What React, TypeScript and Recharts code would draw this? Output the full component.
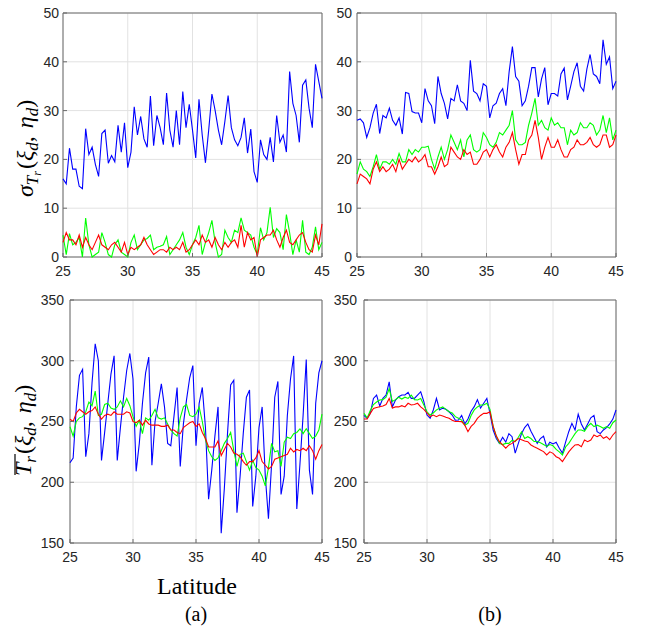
import { CartesianGrid, Line, LineChart, ReferenceArea, XAxis, YAxis } from "recharts";

// latitude grid shared by all four panels (0.25 deg step)
const latitude = [
  25, 25.25, 25.5, 25.75, 26, 26.25, 26.5, 26.75, 27, 27.25, 27.5, 27.75, 28, 28.25, 28.5, 28.75,
  29, 29.25, 29.5, 29.75, 30, 30.25, 30.5, 30.75, 31, 31.25, 31.5, 31.75, 32, 32.25, 32.5, 32.75,
  33, 33.25, 33.5, 33.75, 34, 34.25, 34.5, 34.75, 35, 35.25, 35.5, 35.75, 36, 36.25, 36.5, 36.75,
  37, 37.25, 37.5, 37.75, 38, 38.25, 38.5, 38.75, 39, 39.25, 39.5, 39.75, 40, 40.25, 40.5, 40.75,
  41, 41.25, 41.5, 41.75, 42, 42.25, 42.5, 42.75, 43, 43.25, 43.5, 43.75, 44, 44.25, 44.5, 44.75, 45,
];
const latTicks = [25, 30, 35, 40, 45];
const sigmaTicks = [0, 10, 20, 30, 40, 50];
const meanTicks = [150, 200, 250, 300, 350];

// (a) sigma
const sigmaBlueA = [
  16, 15, 22.3, 18, 18, 14.5, 14, 26.3, 21, 22.5, 19, 16.5, 25.3, 26, 19.2, 20.8,
  19.5, 27, 21.5, 27.5, 18.3, 21.5, 30.8, 25, 28.8, 24.2, 22.5, 33, 22.8, 29, 26.5, 23,
  33.6, 26, 22.5, 30, 23, 33.9, 26.5, 31.3, 26, 20.3, 32.3, 25, 19.3, 26, 33.4, 30,
  26, 23, 27.8, 33.1, 26.5, 24, 22.8, 24.5, 28.5, 21.3, 26.2, 17.5, 15.3, 24, 21, 20,
  24.5, 19.5, 29, 23.5, 25, 21.5, 38, 31.5, 29, 23.5, 35.2, 36.3, 30.5, 26.5, 39.5, 36, 32.5,
];
const sigmaGreenA = [
  4.5, 0.5, 4.8, 2.5, 3, 4, 0, 8, 2.5, 0, 0.5, 1, 5, 3, 0.5, 0,
  2.5, 3.5, 1, 0.5, 0, 3, 4.5, 1.5, 2.5, 3.5, 3.8, 4.5, 1.5, 2, 2.2, 2.5,
  4.2, 0.5, 1.5, 2.5, 3.5, 5, 2, 0.5, 2.5, 4, 6.5, 0.5, 3, 5, 7.5, 3,
  0, 0.5, 5.5, 4, 3, 5.5, 5, 8, 5.5, 5, 4.5, 2, 0.5, 6, 3.5, 5,
  10.2, 4, 5.8, 5, 1.5, 8.7, 5, 0.5, 3.5, 1, 7.5, 1, 0.5, 2, 6.2, 1.5, 3,
];
const sigmaRedA = [
  3, 5, 3.5, 3.5, 2.5, 4.5, 2, 4, 2.5, 1.5, 3, 4.5, 2.5, 2, 1.5, 2.5,
  3, 2, 1, 3, 0.5, 2, 1.5, 2, 2.5, 4, 2.5, 1.5, 0.5, 1, 1.5, 1.5,
  1, 2, 1.5, 2, 1.5, 3, 1, 1.5, 2.5, 3.5, 2.5, 4.5, 3, 3.5, 2, 4,
  2.5, 1.5, 3, 2, 3, 3.5, 2, 6.5, 2, 5, 3.5, 4, 0, 3.5, 4, 4.5,
  4.5, 5.5, 3.5, 2, 4, 5.5, 3, 2.5, 3.5, 4.5, 5, 3, 1.5, 1, 4.5, 2.5, 6.8,
];

// (b) sigma
const sigmaBlueB = [
  28, 28.3, 27.5, 24.5, 26.5, 29.5, 31.3, 25.3, 29, 28.5, 30.5, 28, 27, 28.5, 25.2, 33.7,
  33.5, 29.8, 29.5, 29.5, 27.5, 34.5, 32, 31, 27.3, 37, 33.5, 31.5, 28.3, 32.5, 32, 35.3,
  32, 31.5, 30, 40.3, 34, 33.5, 32, 35.5, 35, 28.5, 31, 31.5, 33.5, 34.5, 31, 38,
  43.1, 37, 36, 31, 32, 35, 38.8, 38.8, 32.8, 36.5, 38.8, 31.2, 33.5, 33.5, 33, 37.5,
  38.7, 32.2, 35, 38, 39.8, 35, 34, 38.5, 41.5, 37.5, 37, 35.5, 44.5, 39.5, 41, 34.5, 36,
];
const sigmaGreenB = [
  17, 19.5, 18, 17.5, 16.5, 18.5, 21, 18, 19.5, 19.5, 19, 20, 19, 21.2, 19.5, 19.5,
  22, 21, 22, 21.5, 22.5, 22.5, 22.7, 20, 18, 20.5, 22.5, 20, 22, 25, 23.5, 22,
  24, 20.5, 24, 25, 22, 21.5, 22, 25.5, 24.5, 23, 22.5, 23.5, 25.5, 25, 26, 27,
  30, 24, 23, 23, 23.5, 27, 29.5, 32.5, 27, 28, 26.5, 26, 28.5, 27, 27.5, 26.5,
  26.5, 23, 26, 25, 25.5, 27.5, 26.5, 26.5, 27.5, 27, 25, 26, 29, 25.5, 28.5, 24, 26,
];
const sigmaRedB = [
  15, 17, 16.5, 16, 15, 18, 19.5, 17.5, 18.5, 17.5, 18, 19, 17.5, 20, 18, 19,
  20, 19.5, 20.5, 19.5, 20, 21, 18.5, 18.5, 17, 18.5, 20.5, 18.5, 19, 22.5, 21.5, 20.5,
  20, 22, 21, 21.5, 19, 19, 20, 21.5, 22, 20.5, 22, 23, 21.5, 20.5, 22.5, 23.5,
  25.5, 22, 19, 21, 21, 24, 25, 28, 24.5, 20, 22.5, 24.5, 22.5, 22.5, 24, 22,
  20.5, 20.5, 22, 22.5, 24, 23, 23, 23.5, 24.5, 23, 22.5, 23, 25, 25, 22.5, 23, 25,
];

// (a) mean
const meanBlueA = [
  216, 220, 262, 288, 293, 221, 240, 282, 314, 300, 218, 241, 265, 289, 304, 218,
  245, 270, 292, 306, 285, 209, 232, 265, 290, 303, 214, 250, 265, 281, 262, 232,
  230, 254, 278, 213, 248, 268, 286, 296, 230, 265, 278, 245, 186, 210, 238, 262,
  158, 195, 240, 280, 284, 175, 205, 240, 270, 276, 180, 205, 245, 262, 205, 170,
  215, 270, 283, 190, 205, 255, 285, 304, 178, 215, 255, 301, 210, 190, 265, 290, 300,
];
const meanGreenA = [
  245.7, 238, 250, 253, 254, 258, 266, 263, 275, 255, 256, 264, 265, 261, 260, 262,
  267, 262, 269, 263, 254, 246, 251, 240, 253, 251, 255, 260, 253, 252, 253, 248,
  243, 240, 238, 253, 262, 264, 255, 254, 256, 262, 250, 235, 226, 221, 218, 220,
  226, 232, 236, 241, 226, 213, 223, 224, 217, 210, 218, 212, 210, 205, 197, 212,
  232, 225, 226, 213, 233, 237, 236, 240, 241, 244, 240, 244, 240, 236, 238, 243, 256,
];
const meanRedA = [
  252, 250, 257, 260, 258, 256, 258, 259, 262, 256, 252, 255, 256, 255, 258, 256,
  256, 256, 258, 257, 250, 249, 251, 247, 251, 248, 247, 247, 247, 246, 246, 247,
  243, 243, 241, 240, 245, 247, 249, 250, 246, 248, 241, 236, 229, 229, 229, 234,
  222, 227, 232, 229, 224, 223, 221, 217, 214, 217, 217, 220, 226, 217, 214, 211,
  213, 219, 220, 221, 222, 223, 228, 225, 227, 226, 228, 226, 230, 226, 219, 226, 231,
];

// (b) mean
const meanBlueB = [
  255, 252.6, 256.7, 269, 271.8, 262.7, 269, 271.8, 282.7, 262, 267.7, 270.4, 271.8, 271.8, 274, 269,
  269, 271.8, 274.5, 266.3, 255.3, 252.6, 259.5, 269, 259.5, 261, 260, 258, 255.3, 251, 251.2, 255,
  248, 252, 258.5, 262.2, 268, 261, 265, 269, 256.7, 243, 236, 232, 237, 233, 240, 237.5,
  224, 232, 240, 245, 248, 242, 237, 232, 236, 238, 229, 233, 231.5, 233, 228, 224,
  233, 241.6, 248.5, 243, 256, 248, 243, 248, 253, 255, 241.6, 240, 243, 245, 248, 252, 259.5,
];
const meanGreenB = [
  256.7, 253, 259, 264, 266, 267.7, 268, 270, 277, 266.5, 268, 270, 268.5, 270, 269, 271.8,
  268, 267.7, 269, 263.6, 258, 255.3, 257, 259.5, 261, 262, 260, 258, 257, 254, 252.6, 251.2,
  247, 248.5, 255, 259.5, 262, 263.6, 263.6, 265, 260, 246, 238, 232, 231, 232, 232, 234.5,
  233.5, 237, 241.5, 236, 237.5, 236, 233.5, 233.5, 232.5, 231, 229.5, 231, 230, 227, 225, 222.5,
  229, 232, 236, 240, 243, 243, 242, 246, 248.5, 245.8, 247, 245.8, 244.4, 245.8, 244.4, 249, 251.2,
];
const meanRedB = [
  252, 252, 256.7, 260.8, 261.5, 262.2, 262.7, 264, 269, 261, 262, 262, 263, 262, 265, 263.6,
  264, 265, 262, 260, 257, 254, 255.3, 254, 255.3, 254.5, 253.5, 252.6, 251, 250, 250, 249.9,
  247, 241.6, 246, 248.5, 252.6, 255, 256.7, 256.7, 258, 246, 238, 233.4, 230.7, 228, 230.7, 232,
  234, 236, 235, 234, 233.4, 230.7, 229.3, 228, 226.6, 225.2, 222.5, 225, 223.8, 221, 219.7, 217,
  221, 225, 228, 230.7, 231, 229.3, 234.8, 233.4, 234.8, 238.9, 237.5, 238.9, 236.2, 237.5, 235, 238.9, 241.6,
];

const tickStyle = { fontSize: 14, fontFamily: "'Liberation Sans', Arial, sans-serif", fill: "#262626" };
const serif = { fontFamily: "'Liberation Serif', 'Times New Roman', serif" };
const boxColor = "#6a6a6a";

// MATLAB-style inward ticks: negative tick size, label pushed back out with tickMargin
const TICK = -4;

function Panel({ left, top, width, height, blue, green, red, domain, ticks, yGap }: {
  left: number; top: number; width: number; height: number;
  blue: number[]; green: number[]; red: number[];
  domain: [number, number]; ticks: number[]; yGap: number;
}) {
  const data = latitude.map((lat, i) => ({ lat, blue: blue[i], green: green[i], red: red[i] }));
  return (
    <div style={{ position: "absolute", left, top }}>
      <LineChart width={width} height={height} data={data} margin={{ top: 8, right: 10, left: 0, bottom: 0 }}>
        <CartesianGrid stroke="#e2e2e2" strokeWidth={1} />
        <XAxis
          dataKey="lat"
          type="number"
          domain={[25, 45]}
          ticks={latTicks}
          height={30}
          tickSize={TICK}
          tickMargin={9 - TICK}
          axisLine={false}
          tickLine={{ stroke: boxColor }}
          tick={tickStyle}
        />
        {/* mirrored box ticks on top and right, no labels */}
        <XAxis
          xAxisId="top"
          orientation="top"
          dataKey="lat"
          type="number"
          domain={[25, 45]}
          ticks={latTicks}
          height={0}
          tickSize={TICK}
          axisLine={false}
          tickLine={{ stroke: boxColor }}
          tick={false}
        />
        <YAxis
          type="number"
          domain={domain}
          ticks={ticks}
          width={45}
          tickSize={TICK}
          tickMargin={yGap - TICK}
          axisLine={false}
          tickLine={{ stroke: boxColor }}
          tick={tickStyle}
        />
        <YAxis
          yAxisId="right"
          orientation="right"
          type="number"
          domain={domain}
          ticks={ticks}
          width={0}
          tickSize={TICK}
          axisLine={false}
          tickLine={{ stroke: boxColor }}
          tick={false}
        />
        <Line dataKey="blue" stroke="#0000ff" strokeWidth={1.1} dot={false} isAnimationActive={false} />
        <Line dataKey="green" stroke="#00ff00" strokeWidth={1.1} dot={false} isAnimationActive={false} />
        <Line dataKey="red" stroke="#ff0000" strokeWidth={1.1} dot={false} isAnimationActive={false} />
        <ReferenceArea x1={25} x2={45} y1={domain[0]} y2={domain[1]} fill="none" stroke={boxColor} strokeWidth={1} />
      </LineChart>
    </div>
  );
}

export default function App() {
  return (
    <div style={{ position: "absolute", left: 0, top: 0, width: 646, height: 628, background: "#fff" }}>
      <Panel left={18} top={5} width={314} height={282} blue={sigmaBlueA} green={sigmaGreenA} red={sigmaRedA}
        domain={[0, 50]} ticks={sigmaTicks} yGap={4} />
      <Panel left={312} top={5} width={314} height={282} blue={sigmaBlueB} green={sigmaGreenB} red={sigmaRedB}
        domain={[0, 50]} ticks={sigmaTicks} yGap={5} />
      <Panel left={25} top={292} width={307} height={281} blue={meanBlueA} green={meanGreenA} red={meanRedA}
        domain={[150, 350]} ticks={meanTicks} yGap={6} />
      <Panel left={319} top={292} width={307} height={281} blue={meanBlueB} green={meanGreenB} red={meanRedB}
        domain={[150, 350]} ticks={meanTicks} yGap={7} />
      <svg width={646} height={628} style={{ position: "absolute", left: 0, top: 0, pointerEvents: "none" }}>
        <g transform="translate(33,197) rotate(-90)" style={serif} fill="#000">
          <text fontSize={24}>
            <tspan fontStyle="italic">σ</tspan>
            <tspan fontSize={17} fontStyle="italic" dy={5}>T</tspan>
            <tspan fontSize={12} fontStyle="italic" dy={3}>r</tspan>
            <tspan dy={-8} dx={2}>(</tspan>
            <tspan fontStyle="italic">ξ</tspan>
            <tspan fontSize={17} fontStyle="italic" dy={5}>d</tspan>
            <tspan dy={-5}>, </tspan>
            <tspan fontStyle="italic" dx={2}>η</tspan>
            <tspan fontSize={17} fontStyle="italic" dy={5}>d</tspan>
            <tspan dy={-5}>)</tspan>
          </text>
        </g>
        <g transform="translate(31,476) rotate(-90)" style={serif} fill="#000">
          <text fontSize={24}>
            <tspan fontStyle="italic">T</tspan>
            <tspan fontSize={17} fontStyle="italic" dy={5}>r</tspan>
            <tspan dy={-5} dx={2}>(</tspan>
            <tspan fontStyle="italic">ξ</tspan>
            <tspan fontSize={17} fontStyle="italic" dy={5}>d</tspan>
            <tspan dy={-5}>, </tspan>
            <tspan fontStyle="italic" dx={2}>η</tspan>
            <tspan fontSize={17} fontStyle="italic" dy={5}>d</tspan>
            <tspan dy={-5}>)</tspan>
          </text>
          <line x1={1} x2={22} y1={-16} y2={-16} stroke="#000" strokeWidth={1.2} />
        </g>
        <text x={197} y={594} textAnchor="middle" style={serif} fontSize={24}>Latitude</text>
        <text x={196} y={621} textAnchor="middle" style={serif} fontSize={20}>(a)</text>
        <text x={490} y={621} textAnchor="middle" style={serif} fontSize={20}>(b)</text>
      </svg>
    </div>
  );
}
